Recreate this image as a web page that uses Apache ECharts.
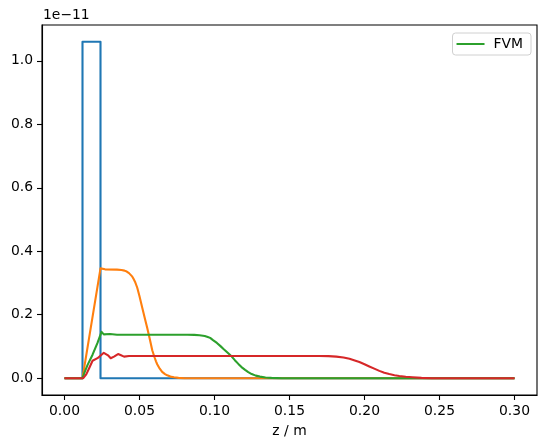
<!DOCTYPE html>
<html>
<head>
<meta charset="utf-8">
<script src="https://cdn.jsdelivr.net/npm/echarts@6/dist/echarts.min.js"></script>
<style>
  html, body { margin: 0; padding: 0; background: #fff; }
  #main { width: 547px; height: 448px; }
</style>
</head>
<body>
<div id="main"></div>
<script>
// values are in units of 1e-11
var xTicks = [0, 0.05, 0.10, 0.15, 0.20, 0.25, 0.30];
var yTicks = [0, 0.2, 0.4, 0.6, 0.8, 1.0];

var blueZ = [0, 0.012, 0.012, 0.024, 0.024, 0.3];
var blueV = [0, 0, 1.06, 1.06, 0, 0];

var orangeZ = [0, 0.012, 0.024, 0.027, 0.035, 0.038, 0.040, 0.0415, 0.043, 0.044, 0.0452, 0.046, 0.047, 0.0485, 0.050, 0.0518, 0.0535, 0.0552, 0.057, 0.0585, 0.060, 0.061, 0.0618, 0.0635, 0.0651, 0.067, 0.0685, 0.0706, 0.073, 0.076, 0.08, 0.3];
var orangeV = [0, 0, 0.346, 0.343, 0.342, 0.341, 0.339, 0.336, 0.331, 0.327, 0.320, 0.313, 0.304, 0.285, 0.258, 0.223, 0.190, 0.157, 0.120, 0.088, 0.066, 0.053, 0.044, 0.030, 0.020, 0.013, 0.009, 0.005, 0.003, 0.001, 0, 0];

var greenZ = [0, 0.012, 0.0135, 0.0154, 0.0187, 0.022, 0.0247, 0.0262, 0.0275, 0.0304, 0.035, 0.06, 0.082, 0.0865, 0.090, 0.0935, 0.0955, 0.0971, 0.099, 0.1016, 0.104, 0.106, 0.1088, 0.1115, 0.1137, 0.1159, 0.118, 0.1204, 0.1225, 0.1248, 0.1275, 0.1303, 0.134, 0.138, 0.145, 0.3];
var greenV = [0, 0, 0.020, 0.042, 0.074, 0.111, 0.146, 0.138, 0.134, 0.139, 0.137, 0.137, 0.137, 0.1365, 0.1355, 0.133, 0.130, 0.127, 0.120, 0.111, 0.101, 0.092, 0.080, 0.068, 0.056, 0.045, 0.035, 0.026, 0.019, 0.013, 0.008, 0.005, 0.002, 0.001, 0, 0];

var redZ = [0, 0.0125, 0.0145, 0.0165, 0.0187, 0.022, 0.0247, 0.0262, 0.0275, 0.029, 0.0308, 0.033, 0.0357, 0.0377, 0.0397, 0.043, 0.05, 0.1, 0.17, 0.176, 0.1812, 0.186, 0.19, 0.1935, 0.1966, 0.2, 0.2032, 0.2065, 0.2099, 0.2132, 0.2165, 0.22, 0.2232, 0.2275, 0.232, 0.238, 0.245, 0.3];
var redV = [0, 0, 0.012, 0.032, 0.055, 0.063, 0.074, 0.080, 0.081, 0.072, 0.063, 0.068, 0.076, 0.072, 0.068, 0.070, 0.070, 0.070, 0.070, 0.0695, 0.068, 0.065, 0.061, 0.056, 0.051, 0.044, 0.037, 0.030, 0.023, 0.017, 0.013, 0.0095, 0.007, 0.0045, 0.003, 0.001, 0, 0];

function pairs(z, v) {
    return z.map(function (x, i) { return [x, v[i]]; });
}

var chartDom = document.getElementById('main');
var myChart = echarts.init(chartDom, null, { renderer: 'canvas' });
var font = 'DejaVu Sans';

function line(name, z, v, color) {
    return {
        name: name,
        type: 'line',
        data: pairs(z, v),
        showSymbol: false,
        smooth: false,
        lineStyle: { color: color, width: 2.1, join: 'round' },
        itemStyle: { color: color },
        emphasis: { disabled: true }
    };
}

var option = {
    animation: false,
    backgroundColor: '#fff',
    textStyle: { fontFamily: font },
    grid: {
        left: 42, right: 10, top: 25, bottom: 53,
        show: true, borderColor: '#000', borderWidth: 1.1, backgroundColor: 'transparent'
    },
    title: {
        text: '1e\u221211',
        left: 38, top: 3,
        textStyle: { fontFamily: font, fontSize: 13.9, fontWeight: 'normal', color: '#000' }
    },
    legend: {
        data: ['FVM'],
        right: 16, top: 33,
        orient: 'vertical',
        icon: 'rect',
        itemWidth: 28, itemHeight: 2,
        itemGap: 8,
        padding: [4, 8, 4, 4],
        borderColor: '#d0d0d0', borderWidth: 1, borderRadius: 3,
        backgroundColor: 'rgba(255,255,255,0.8)',
        textStyle: { fontFamily: font, fontSize: 13.9, color: '#000', padding: [0, 0, 0, 4] }
    },
    xAxis: {
        type: 'value',
        min: -0.015, max: 0.315,
        name: 'z / m',
        nameLocation: 'middle',
        nameGap: 29,
        nameTextStyle: { fontFamily: font, fontSize: 13.9, color: '#000' },
        splitLine: { show: false },
        axisLine: { show: true, onZero: false, lineStyle: { color: '#000', width: 1.1 } },
        axisTick: { show: true, length: 5, customValues: xTicks, lineStyle: { color: '#000', width: 1.1 } },
        axisLabel: {
            customValues: xTicks, margin: 9, color: '#000', fontFamily: font, fontSize: 13.9,
            formatter: function (v) { return v.toFixed(2); }
        }
    },
    yAxis: {
        type: 'value',
        min: -0.053, max: 1.113,
        splitLine: { show: false },
        axisLine: { show: true, onZero: false, lineStyle: { color: '#000', width: 1.1 } },
        axisTick: { show: true, length: 5, customValues: yTicks, lineStyle: { color: '#000', width: 1.1 } },
        axisLabel: {
            customValues: yTicks, margin: 9, color: '#000', fontFamily: font, fontSize: 13.9,
            formatter: function (v) { return v.toFixed(1); }
        }
    },
    series: [
        line('s0', blueZ, blueV, '#1f77b4'),
        line('s1', orangeZ, orangeV, '#ff7f0e'),
        line('FVM', greenZ, greenV, '#2ca02c'),
        line('s3', redZ, redV, '#d62728')
    ]
};

option && myChart.setOption(option);
</script>
</body>
</html>
